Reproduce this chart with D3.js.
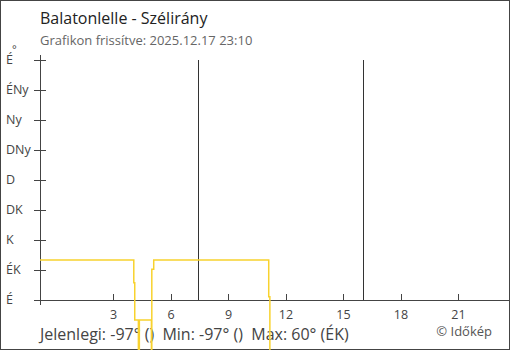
<!DOCTYPE html>
<html>
<head>
<meta charset="utf-8">
<script src="https://cdn.jsdelivr.net/npm/d3@7"></script>
<style>
  body { margin: 0; background: #fff; }
  svg { display: block; font-family: "Open Sans", sans-serif; }
</style>
</head>
<body>
<div id="chart"></div>
<script>
// wind direction labels and their degrees
var dirLabels = ["É", "ÉK", "K", "DK", "D", "DNy", "Ny", "ÉNy", "É"];
var dirDegrees = [0, 45, 90, 135, 180, 225, 270, 315, 360];
var hourTicks = [3, 6, 9, 12, 15, 18, 21];

// hours from midnight (2025.12.17), wind direction in degrees (-97 = no data)
var times  = [-50 / 60, 4.06, 4.11, 4.30, 4.35, 4.98, 5.00, 5.10, 11.10, 11.16, 23 + 10 / 60];
var values = [60, 26, -30, -97, -30, -97, 46, 60, 5, -97, -97];

// sunrise / sunset
var sunLines = [7.43, 16.04];

var width = 510, height = 350;
var plotLeft = 40, plotRight = 500, plotTop = 60, plotBottom = 300;
var axisColor = "#444";

var svg = d3.select("#chart").append("svg")
    .attr("width", width)
    .attr("height", height);

// frame
svg.append("rect")
    .attr("x", 0.5).attr("y", 0.5)
    .attr("width", width - 1).attr("height", height - 1)
    .attr("fill", "none")
    .attr("stroke", axisColor);

var x = d3.scaleLinear().domain([times[0], times[times.length - 1]]).range([plotLeft, plotRight]);
var y = d3.scaleLinear().domain([0, 360]).range([plotBottom, plotTop]);

// title
svg.append("text").attr("x", 40).attr("y", 24)
    .attr("font-size", 16).attr("fill", "#222")
    .text("Balatonlelle - Szélirány");
svg.append("text").attr("x", 40).attr("y", 45)
    .attr("font-size", 13).attr("fill", "#666")
    .text("Grafikon frissítve: 2025.12.17 23:10");

// sunrise / sunset lines
svg.selectAll("line.sun").data(sunLines).enter().append("line")
    .attr("class", "sun")
    .attr("x1", function (d) { return Math.round(x(d)) + 0.5; })
    .attr("x2", function (d) { return Math.round(x(d)) + 0.5; })
    .attr("y1", plotTop).attr("y2", plotBottom)
    .attr("stroke", "#333");

// y axis
svg.append("line")
    .attr("x1", plotLeft + 0.5).attr("x2", plotLeft + 0.5)
    .attr("y1", plotTop - 5).attr("y2", plotBottom + 5)
    .attr("stroke", axisColor);
svg.selectAll("line.ytick").data(dirDegrees).enter().append("line")
    .attr("class", "ytick")
    .attr("x1", plotLeft - 6).attr("x2", plotLeft + 6)
    .attr("y1", function (d) { return Math.round(y(d)) + 0.5; })
    .attr("y2", function (d) { return Math.round(y(d)) + 0.5; })
    .attr("stroke", axisColor);
svg.selectAll("text.ylab").data(dirDegrees).enter().append("text")
    .attr("class", "ylab")
    .attr("x", 6)
    .attr("y", function (d) { return y(d); })
    .attr("dy", "0.35em")
    .attr("font-size", 12.5)
    .attr("fill", "#444")
    .text(function (d, i) { return dirLabels[i]; });
svg.append("text").attr("x", 12).attr("y", 53)
    .attr("font-size", 11).attr("fill", "#444")
    .text("°");

// x axis
svg.append("line")
    .attr("x1", plotLeft - 6).attr("x2", width - 1)
    .attr("y1", plotBottom + 0.5).attr("y2", plotBottom + 0.5)
    .attr("stroke", axisColor);
svg.selectAll("line.xtick").data(hourTicks).enter().append("line")
    .attr("class", "xtick")
    .attr("x1", function (d) { return Math.round(x(d)) + 0.5; })
    .attr("x2", function (d) { return Math.round(x(d)) + 0.5; })
    .attr("y1", plotBottom - 6).attr("y2", plotBottom)
    .attr("stroke", axisColor);
svg.selectAll("text.xlab").data(hourTicks).enter().append("text")
    .attr("class", "xlab")
    .attr("x", function (d) { return x(d); })
    .attr("y", 319)
    .attr("text-anchor", "middle")
    .attr("font-size", 12.5)
    .attr("fill", "#444")
    .text(function (d) { return d; });

// footer
svg.append("text").attr("x", 40).attr("y", 340)
    .attr("font-size", 16).attr("fill", "#444")
    .attr("xml:space", "preserve")
    .text("Jelenlegi: -97° ()  Min: -97° ()  Max: 60° (ÉK)");
svg.append("text").attr("x", 492).attr("y", 336)
    .attr("text-anchor", "end")
    .attr("font-size", 13).attr("fill", "#555")
    .text("© Időkép");

// wind direction line
var series = times.map(function (t, i) { return { t: t, v: values[i] }; });
var line = d3.line()
    .x(function (d) { return x(d.t); })
    .y(function (d) { return y(d.v); })
    .curve(d3.curveStepAfter);
svg.append("path")
    .datum(series)
    .attr("d", line)
    .attr("fill", "none")
    .attr("stroke", "#f8d22e")
    .attr("stroke-width", 1.5);
</script>
</body>
</html>
